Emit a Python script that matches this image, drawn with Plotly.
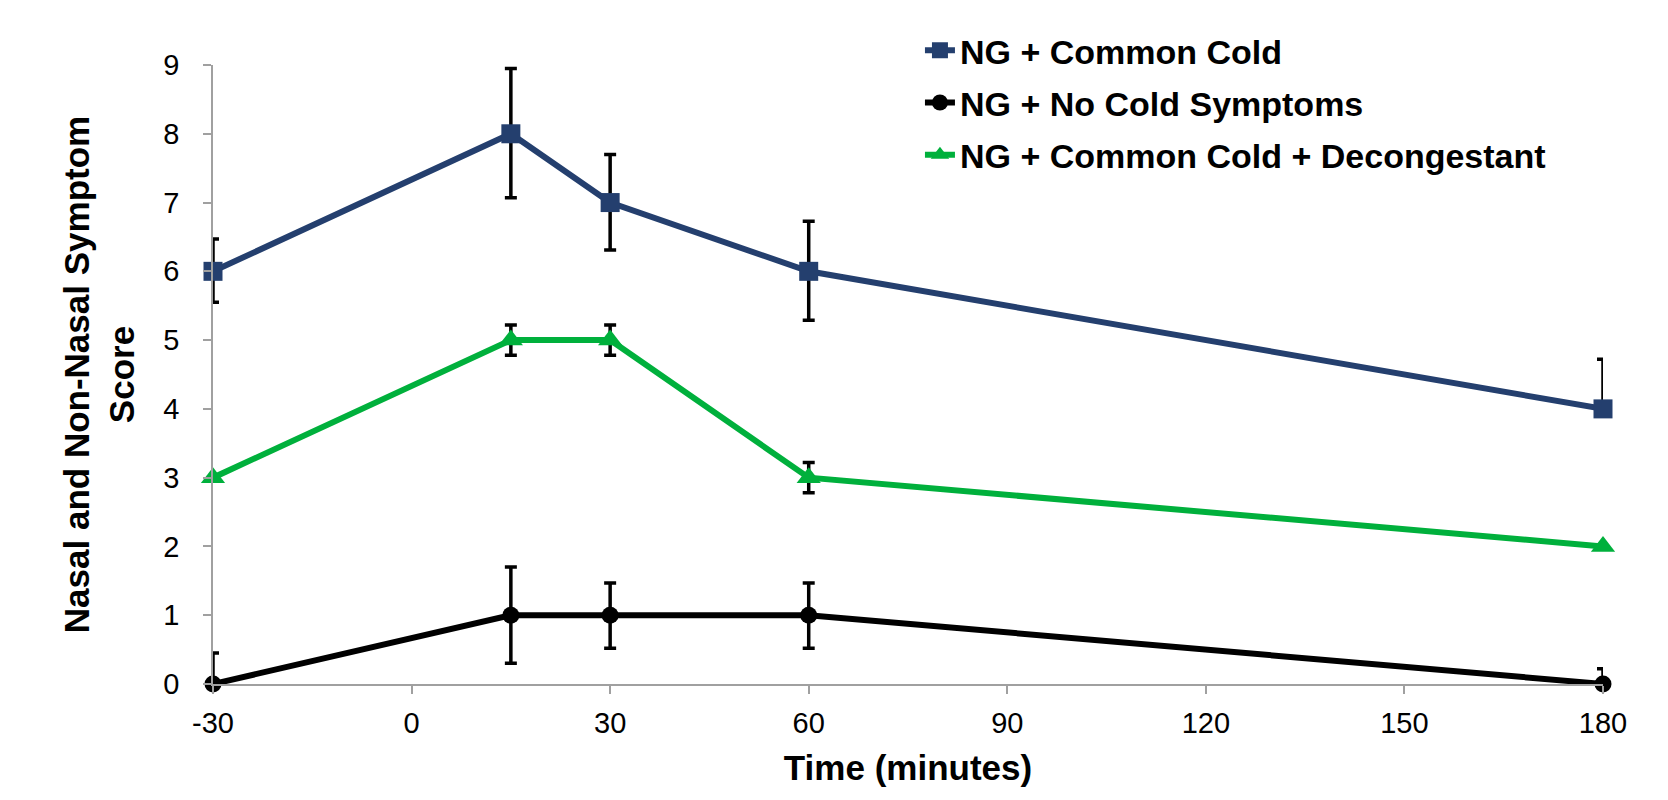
import plotly.graph_objects as go

times = [-30, 15, 30, 60, 180]

cold = [6, 8, 7, 6, 4]
cold_err_plus = [0.47, 0.95, 0.7, 0.73, 0.72]
cold_err_minus = [0.45, 0.93, 0.69, 0.71, 0]

nocold = [0, 1, 1, 1, 0]
nocold_err_plus = [0.45, 0.7, 0.47, 0.47, 0.22]
nocold_err_minus = [0, 0.7, 0.48, 0.48, 0]

decong = [3, 5, 5, 3, 2]
decong_err_plus = [0, 0.22, 0.22, 0.22, 0]
decong_err_minus = [0, 0.22, 0.22, 0.22, 0]

names = ["NG + Common Cold", "NG + No Cold Symptoms", "NG + Common Cold + Decongestant"]
colors = ["#243F6E", "#000000", "#00B03C"]
symbols = ["square", "circle", "triangle-up"]

x_ticks = [-30, 0, 30, 60, 90, 120, 150, 180]
y_ticks = list(range(0, 10))

fig = go.Figure()
series = [
    (cold, cold_err_plus, cold_err_minus),
    (nocold, nocold_err_plus, nocold_err_minus),
    (decong, decong_err_plus, decong_err_minus),
]
msizes = [19, 17, 21]
for i, (ys, ep, em) in enumerate(series):
    fig.add_trace(go.Scatter(
        x=times, y=ys, name=names[i], mode="lines+markers",
        legendgroup=f"g{i}",
        line=dict(color=colors[i], width=6),
        marker=dict(symbol=symbols[i], size=msizes[i], color=colors[i]),
        error_y=dict(type="data", symmetric=False, array=ep, arrayminus=em,
                     color="#000000", thickness=3.5, width=6),
        cliponaxis=False,
    ))

font = "Liberation Sans, Arial, sans-serif"
fig.update_layout(
    width=1668, height=800,
    margin=dict(l=213, r=65, t=65, b=116),
    paper_bgcolor="white", plot_bgcolor="white",
    font=dict(family=font, color="#000000", size=29),
    showlegend=True,
    legend=dict(
        x=0.5086, y=1.07, xanchor="left", yanchor="top",
        font=dict(family=font, size=34, color="#000000", weight="bold"),
        bgcolor="rgba(0,0,0,0)", tracegroupgap=5, itemwidth=30,
    ),
    xaxis=dict(
        range=[-30, 180], tickvals=x_ticks, ticktext=[str(v) for v in x_ticks],
        showgrid=False, zeroline=False, showline=True, linecolor="#A0A0A0", linewidth=1.5,
        ticks="outside", tickcolor="#A0A0A0", ticklen=8, tickwidth=1.5,
        tickfont=dict(size=29), fixedrange=True, ticklabelstandoff=4,
        title=dict(text="<b>Time (minutes)</b>", font=dict(size=35), standoff=18),
    ),
    yaxis=dict(
        range=[0, 9], tickvals=y_ticks,
        showgrid=False, zeroline=False, showline=True, linecolor="#A0A0A0", linewidth=1.5,
        ticks="outside", tickcolor="#A0A0A0", ticklen=8, tickwidth=1.5,
        tickfont=dict(size=29), fixedrange=True, ticklabelstandoff=18,
        title=dict(text="<b>Nasal and Non-Nasal Symptom<br>Score</b>", font=dict(size=35), standoff=18),
    ),
)

fig.write_html("out.html")
